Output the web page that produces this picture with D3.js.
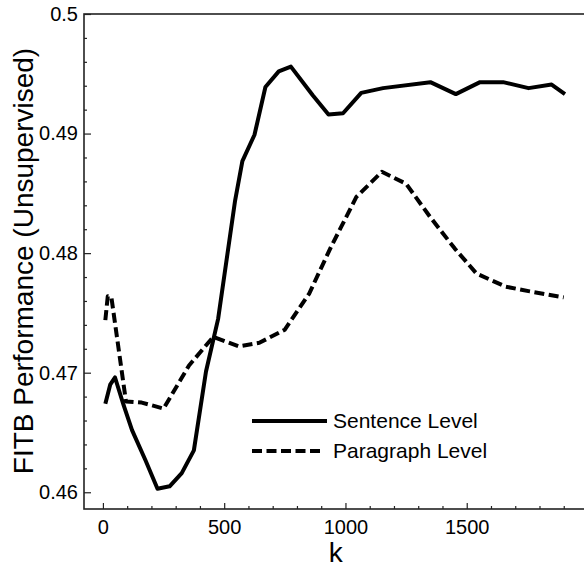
<!DOCTYPE html>
<html>
<head>
<meta charset="utf-8">
<script src="https://cdn.jsdelivr.net/npm/d3@7"></script>
<style>
  body { margin: 0; background: #fff; }
  text { font-family: "Liberation Sans", Arial, Helvetica, sans-serif; fill: #000; }
</style>
</head>
<body>
<svg id="chart" width="584" height="568"></svg>
<script>
let sentenceK = [10, 30, 50, 85, 120, 175, 225, 275, 325, 375, 425, 475, 545, 575, 625, 670, 725, 775, 865, 930, 990, 1065, 1155, 1350, 1455, 1555, 1650, 1755, 1850, 1905]
let sentenceV = [0.4674, 0.4690, 0.4696, 0.4673, 0.4652, 0.4627, 0.4603, 0.4605, 0.4616, 0.4635, 0.4701, 0.4745, 0.4844, 0.4877, 0.4899, 0.4939, 0.4952, 0.4956, 0.4932, 0.4916, 0.4917, 0.4934, 0.4938, 0.4943, 0.4933, 0.4943, 0.4943, 0.4938, 0.4941, 0.4933]

let paragraphK = [10, 20, 35, 95, 160, 250, 355, 455, 560, 645, 750, 850, 940, 1045, 1150, 1250, 1350, 1450, 1540, 1660, 1760, 1900]
let paragraphV = [0.4744, 0.4764, 0.4763, 0.4676, 0.4675, 0.4670, 0.4706, 0.4730, 0.4722, 0.4725, 0.4736, 0.4766, 0.4805, 0.4847, 0.4868, 0.4858, 0.4830, 0.4804, 0.4783, 0.4772, 0.4768, 0.4763]

let xTicks = [0, 500, 1000, 1500]
let yTicks = [0.46, 0.47, 0.48, 0.49, 0.5]
let seriesNames = ["Sentence Level", "Paragraph Level"]

let svg = d3.select("#chart")

let plotLeft = 84, plotRight = 588, plotTop = 14, plotBottom = 509

let x = d3.scaleLinear()
    .domain([-78, 2000])
    .range([plotLeft, plotRight])

let y = d3.scaleLinear()
    .domain([0.4586, 0.5])
    .range([plotBottom, plotTop])

// frame
svg.append("rect")
    .attr("x", plotLeft)
    .attr("y", plotTop)
    .attr("width", plotRight - plotLeft)
    .attr("height", plotBottom - plotTop)
    .attr("fill", "none")
    .attr("stroke", "#222")
    .attr("stroke-width", 1.6)

// inward ticks
let xMinor = d3.range(0, 2000, 100).filter(d => !xTicks.includes(d))
let yMinor = d3.range(0.462, 0.5, 0.002).filter(d => Math.abs(Math.round(d * 100) - d * 100) > 1e-6)

let xAxis = d3.axisBottom(x).tickValues(xTicks).tickSize(-6).tickPadding(11)
    .tickFormat(d => String(d))
let xAxisMinor = d3.axisBottom(x).tickValues(xMinor).tickSize(-3).tickFormat("")
let yAxis = d3.axisLeft(y).tickValues(yTicks).tickSize(-7).tickPadding(6)
    .tickFormat(d => String(+d.toFixed(2)))
let yAxisMinor = d3.axisLeft(y).tickValues(yMinor).tickSize(-3).tickFormat("")

function styleAxis(g) {
    g.select(".domain").remove()
    g.selectAll("line").attr("stroke", "#222").attr("stroke-width", 1.2)
    g.selectAll("text").attr("font-size", 20).attr("font-family", "Liberation Sans, Arial, sans-serif").attr("fill", "#000")
}

svg.append("g").attr("transform", `translate(0,${plotBottom})`).call(xAxis).call(styleAxis)
svg.append("g").attr("transform", `translate(0,${plotBottom})`).call(xAxisMinor).call(styleAxis)
svg.append("g").attr("transform", `translate(${plotLeft},0)`).call(yAxis).call(styleAxis)
svg.append("g").attr("transform", `translate(${plotLeft},0)`).call(yAxisMinor).call(styleAxis)

let line = d3.line()
    .x(d => x(d[0]))
    .y(d => y(d[1]))

svg.append("path")
    .datum(sentenceK.map((k, i) => [k, sentenceV[i]]))
    .attr("d", line)
    .attr("fill", "none")
    .attr("stroke", "#000")
    .attr("stroke-width", 4)
    .attr("stroke-linejoin", "round")

svg.append("path")
    .datum(paragraphK.map((k, i) => [k, paragraphV[i]]))
    .attr("d", line)
    .attr("fill", "none")
    .attr("stroke", "#000")
    .attr("stroke-width", 4)
    .attr("stroke-dasharray", "10,4.5")
    .attr("stroke-linejoin", "round")

// axis titles
svg.append("text")
    .attr("x", x(960))
    .attr("y", 562)
    .attr("text-anchor", "middle")
    .attr("font-size", 28)
    .text("k")

svg.append("text")
    .attr("transform", "translate(33,261) rotate(-90)")
    .attr("text-anchor", "middle")
    .attr("font-size", 28)
    .text("FITB Performance (Unsupervised)")

// legend
let legend = svg.append("g").attr("transform", "translate(252,421)")
seriesNames.forEach((name, i) => {
    legend.append("line")
        .attr("x1", 0).attr("x2", i == 1 ? 69 : 75)
        .attr("y1", i * 30).attr("y2", i * 30)
        .attr("stroke", "#000")
        .attr("stroke-width", 4)
        .attr("stroke-dasharray", i == 1 ? "10,4.5" : null)
    legend.append("text")
        .attr("x", 81)
        .attr("y", i * 30 + 7)
        .attr("font-size", 21)
        .text(name)
})
</script>
</body>
</html>
